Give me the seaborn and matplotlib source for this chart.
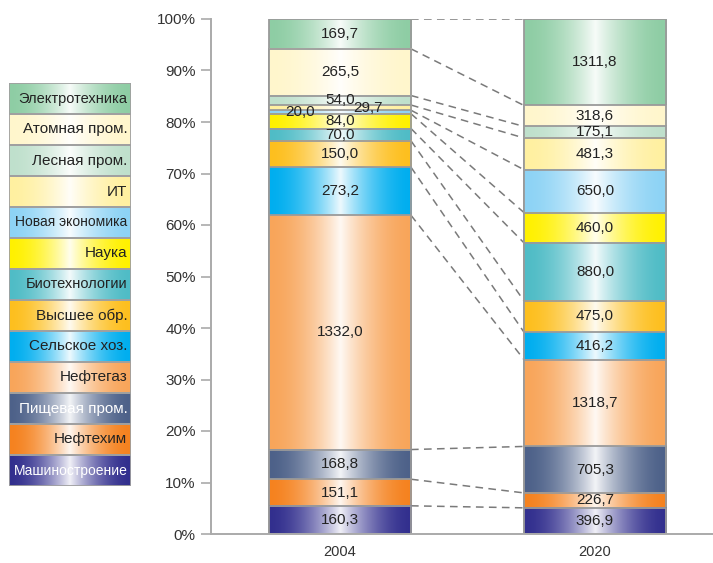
import numpy as np
import pandas as pd
import matplotlib
matplotlib.use('Agg')
import matplotlib.pyplot as plt
import matplotlib.colors as mcolors
from matplotlib.patches import Rectangle
import seaborn as sns

# Sectors from bottom to top of the stack
sectors = ['Машиностроение', 'Нефтехим', 'Пищевая пром.', 'Нефтегаз',
           'Сельское хоз.', 'Высшее обр.', 'Биотехнологии', 'Наука',
           'Новая экономика', 'ИТ', 'Лесная пром.', 'Атомная пром.',
           'Электротехника']
values_2004 = [160.3, 151.1, 168.8, 1332.0, 273.2, 150.0, 70.0, 84.0,
               20.0, 29.7, 54.0, 265.5, 169.7]
values_2020 = [396.9, 226.7, 705.3, 1318.7, 416.2, 475.0, 880.0, 460.0,
               650.0, 481.3, 175.1, 318.6, 1311.8]
years = ['2004', '2020']

colors = ['#322f8e', '#f5821f', '#4d6189', '#f8a55a', '#00aeef', '#fdbf1e',
          '#4fbcc6', '#fff100', '#8dd3f5', '#fff0a0', '#bfe0cc', '#fff6cc',
          '#8ecda4']
legend_text_colors = ['white', '#222222', 'white'] + ['#222222'] * 10
legend_sizes = [10, 11, 11, 11, 11, 11, 10.5, 11, 10, 11, 11, 11, 10.5]

sns.set_theme(style='white')
plt.rcParams['font.family'] = ['Liberation Sans', 'DejaVu Sans']

df = pd.DataFrame({
    'sector': sectors * 2,
    'year': ['2004'] * len(sectors) + ['2020'] * len(sectors),
    'value': values_2004 + values_2020,
})
df['share'] = df['value'] / df.groupby('year')['value'].transform('sum') * 100
df['top'] = df.groupby('year')['share'].cumsum()
df['mid'] = df['top'] - df['share'] / 2


def gradient(color, n=256):
    # dark at the edges, nearly white in the middle
    rgb = np.array(mcolors.to_rgb(color))
    t = np.linspace(0, 1, n)
    f = (1 - np.abs(2 * t - 1)) ** 1.8 * 0.93
    row = rgb[None, :] * (1 - f[:, None]) + f[:, None]
    return row[None, :, :]


fig = plt.figure(figsize=(7.13, 5.63), dpi=100)
ax = fig.add_axes([211 / 713, 1 - 534 / 563, 1 - 211 / 713, 515 / 563])

bar_w = 0.557
edge = '#9a9a9a'

# overdraw cumulative bars from the top segment down
for k, i in enumerate(reversed(range(len(sectors)))):
    sub = df[df['sector'] == sectors[i]]
    n_before = len(ax.patches)
    z = 2 + k
    sns.barplot(data=sub, x='year', y='top', order=years, color=colors[i],
                saturation=1, width=bar_w, errorbar=None, ax=ax, zorder=z,
                linewidth=0)
    for p in ax.patches[n_before:]:
        x0, y0 = p.get_x(), p.get_y()
        x1, y1 = x0 + p.get_width(), y0 + p.get_height()
        ax.imshow(gradient(colors[i]), extent=[x0, x1, y0, y1], aspect='auto',
                  interpolation='bilinear', zorder=z + 0.1)
        ax.add_patch(Rectangle((x0, y0), x1 - x0, y1 - y0, fill=False,
                               edgecolor=edge, linewidth=1.3, zorder=z + 0.2))

# dashed connectors between segment boundaries
top_2004 = df[df['year'] == '2004']['top'].values
top_2020 = df[df['year'] == '2020']['top'].values
for a, b in zip(top_2004, top_2020):
    ax.plot([bar_w / 2, 1 - bar_w / 2], [a, b], color='#7a7a7a', lw=1.1,
            ls=(0, (5, 3.5)), zorder=1)

# value labels
x_shift = {('2004', 'Новая экономика'): -0.157, ('2004', 'ИТ'): 0.11}
for _, r in df.iterrows():
    x = years.index(r['year']) + x_shift.get((r['year'], r['sector']), 0)
    ax.text(x, r['mid'], f"{r['value']:.1f}".replace('.', ','), ha='center',
            va='center', fontsize=11, color='#222222', zorder=100)

ax.set_xlim(-0.506, 1.463)
ax.set_ylim(0, 100)
ax.set_xlabel('')
ax.set_ylabel('')
ax.set_yticks(range(0, 101, 10))
ax.set_yticklabels([f'{v}%' for v in range(0, 101, 10)])
ax.tick_params(axis='y', length=7, width=1.2, color='#aaaaaa', pad=4,
               labelsize=11, labelcolor='#333333', left=True)
ax.tick_params(axis='x', length=0, pad=8, labelsize=10.5, labelcolor='#333333')
for s in ['top', 'right']:
    ax.spines[s].set_visible(False)
for s in ['left', 'bottom']:
    ax.spines[s].set_color('#aaaaaa')
    ax.spines[s].set_linewidth(1.4)
    ax.spines[s].set_zorder(50)

# legend column on the left
lax = fig.add_axes([9 / 713, 1 - 486 / 563, 122 / 713, 403 / 563])
for i, name in enumerate(sectors):
    lax.imshow(gradient(colors[i]), extent=[0, 1, i, i + 1], aspect='auto',
               interpolation='bilinear', zorder=1)
    lax.add_patch(Rectangle((0, i), 1, 1, fill=False, edgecolor='#a0a0a0',
                            linewidth=1.3, zorder=2))
    lax.text(0.97, i + 0.5, name, ha='right', va='center',
             fontsize=legend_sizes[i], color=legend_text_colors[i], zorder=3)
lax.set_xlim(0, 1)
lax.set_ylim(0, len(sectors))
lax.axis('off')

fig.savefig('out.png', dpi=100)
